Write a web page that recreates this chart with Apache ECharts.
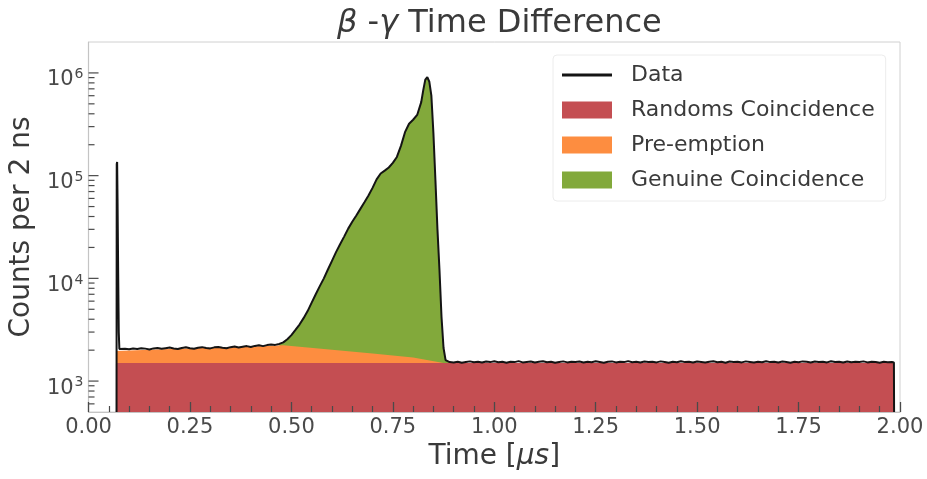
<!DOCTYPE html>
<html>
<head>
<meta charset="utf-8">
<script src="https://cdn.jsdelivr.net/npm/echarts@6/dist/echarts.min.js"></script>
<style>
  html, body { margin: 0; padding: 0; background: #fff; }
  #chart { width: 927px; height: 479px; }
</style>
</head>
<body>
<div id="chart"></div>
<script>
  // counts per 2 ns bin: [time (us), counts]
  const spikePoints = [
    [0.069, 400], [0.0695, 130000], [0.0705, 136000], [0.0715, 60000],
    [0.073, 12000], [0.0745, 3000], [0.076, 2050], [0.08, 1980]
  ];
  const flatPoints = [
    [0.09, 2060], [0.10, 2040], [0.11, 2080], [0.12, 2050], [0.13, 2090],
    [0.14, 2070], [0.15, 2030], [0.16, 2080], [0.17, 2100], [0.18, 2060],
    [0.19, 2090], [0.20, 2120], [0.21, 2080], [0.22, 2050], [0.23, 2100],
    [0.24, 2130], [0.25, 2090], [0.26, 2060], [0.27, 2110], [0.28, 2140],
    [0.29, 2100], [0.30, 2080], [0.31, 2130], [0.32, 2150], [0.33, 2110],
    [0.34, 2090], [0.35, 2140], [0.36, 2170], [0.37, 2120], [0.38, 2160],
    [0.39, 2190], [0.40, 2150], [0.41, 2200], [0.42, 2230], [0.43, 2190],
    [0.44, 2240], [0.45, 2270], [0.46, 2250]
  ];
  const peakPoints = [
    [0.47, 2300], [0.48, 2380], [0.49, 2550], [0.50, 2800], [0.51, 3150],
    [0.52, 3550], [0.53, 4100], [0.54, 4800], [0.55, 5800], [0.56, 7000],
    [0.57, 8400], [0.58, 10000], [0.59, 12200], [0.60, 14800], [0.61, 18000],
    [0.62, 21500], [0.63, 25500], [0.64, 30500], [0.65, 35500], [0.66, 41000],
    [0.67, 47500], [0.68, 55000], [0.69, 64000], [0.70, 76000], [0.71, 92000],
    [0.72, 105000], [0.73, 112000], [0.74, 120000], [0.75, 133000], [0.76, 152000],
    [0.77, 195000], [0.78, 265000], [0.79, 320000], [0.80, 350000], [0.81, 390000],
    [0.82, 520000], [0.825, 680000], [0.83, 860000], [0.835, 910000], [0.84, 820000],
    [0.845, 600000], [0.85, 260000], [0.855, 90000], [0.86, 30000], [0.865, 12000],
    [0.87, 4200], [0.875, 2100], [0.88, 1600], [0.89, 1530]
  ];
  const tailPoints = [
    [0.90, 1520], [0.91, 1545], [0.92, 1510], [0.93, 1535], [0.94, 1555],
    [0.95, 1525], [0.96, 1540], [0.97, 1515], [0.98, 1550], [0.99, 1530],
    [1.00, 1560], [1.01, 1525], [1.02, 1540], [1.03, 1510], [1.04, 1545],
    [1.05, 1530], [1.06, 1565], [1.07, 1520], [1.08, 1535], [1.09, 1550],
    [1.10, 1515], [1.11, 1540], [1.12, 1560], [1.13, 1525], [1.14, 1545],
    [1.15, 1510], [1.16, 1535], [1.17, 1555], [1.18, 1520], [1.19, 1540],
    [1.20, 1530], [1.21, 1550], [1.22, 1515], [1.23, 1545], [1.24, 1525],
    [1.25, 1560], [1.26, 1535], [1.27, 1510], [1.28, 1540], [1.29, 1555],
    [1.30, 1520], [1.31, 1545], [1.32, 1530], [1.33, 1565], [1.34, 1525],
    [1.35, 1540], [1.36, 1515], [1.37, 1550], [1.38, 1530], [1.39, 1545],
    [1.40, 1520], [1.41, 1555], [1.42, 1535], [1.43, 1510], [1.44, 1545],
    [1.45, 1525], [1.46, 1560], [1.47, 1530], [1.48, 1540], [1.49, 1515],
    [1.50, 1550], [1.51, 1535], [1.52, 1520], [1.53, 1545], [1.54, 1560],
    [1.55, 1525], [1.56, 1540], [1.57, 1510], [1.58, 1550], [1.59, 1530],
    [1.60, 1545], [1.61, 1520], [1.62, 1555], [1.63, 1535], [1.64, 1515],
    [1.65, 1545], [1.66, 1525], [1.67, 1560], [1.68, 1530], [1.69, 1540],
    [1.70, 1520], [1.71, 1550], [1.72, 1535], [1.73, 1510], [1.74, 1545],
    [1.75, 1525], [1.76, 1555], [1.77, 1540], [1.78, 1515], [1.79, 1550],
    [1.80, 1530], [1.81, 1545], [1.82, 1520], [1.83, 1560], [1.84, 1535],
    [1.85, 1545], [1.86, 1515], [1.87, 1550], [1.88, 1525], [1.89, 1540],
    [1.90, 1530], [1.91, 1555], [1.92, 1520], [1.93, 1545], [1.94, 1535],
    [1.95, 1510], [1.96, 1540], [1.97, 1525], [1.98, 1535], [1.985, 1520],
    [1.9855, 400]
  ];
  // randoms + pre-emption (upper edge of the orange band)
  const preemptionPoints = [
    [0.069, 1960], [0.10, 1990], [0.20, 2050], [0.30, 2110], [0.40, 2170],
    [0.48, 2230], [0.60, 2020], [0.70, 1860], [0.80, 1700], [0.875, 1500]
  ];
  const randomsPoints = [[0.069, 1500], [1.9855, 1500]];

  const xTicks = [0, 0.25, 0.5, 0.75, 1, 1.25, 1.5, 1.75, 2];
  const yMajorTicks = [1000, 10000, 100000, 1000000];
  const yMinorTicks = [
    600, 700, 800, 900,
    2000, 3000, 4000, 5000, 6000, 7000, 8000, 9000,
    20000, 30000, 40000, 50000, 60000, 70000, 80000, 90000,
    200000, 300000, 400000, 500000, 600000, 700000, 800000, 900000
  ];

  const dataPoints = spikePoints.concat(flatPoints, peakPoints, tailPoints);

  const FONT = 'DejaVu Sans';
  const TICK = '#4a4a4a';
  const chart = echarts.init(document.getElementById('chart'), null, { renderer: 'canvas' });

  // y ticks drawn inward from the left axis: [value, length]
  const yTickData = yMajorTicks.map((v) => [0, v, 10]).concat(yMinorTicks.map((v) => [0, v, 6]));

  const option = {
    animation: false,
    backgroundColor: '#ffffff',
    title: {
      text: '{i|β} -{i|γ} Time Difference',
      left: 332,
      top: 3,
      textStyle: {
        fontFamily: FONT, fontSize: 32, fontWeight: 'normal', color: '#3a3a3a',
        rich: { i: { fontFamily: FONT, fontSize: 32, fontStyle: 'italic', color: '#3a3a3a' } }
      }
    },
    grid: {
      left: 88, right: 27, top: 42, bottom: 67,
      show: true, borderColor: '#d0d0d0', borderWidth: 1
    },
    legend: {
      orient: 'vertical',
      left: 553, top: 55,
      padding: [9, 11, 10, 9],
      itemWidth: 50, itemHeight: 17, itemGap: 13,
      backgroundColor: '#ffffff',
      borderColor: '#ececec', borderWidth: 1, borderRadius: 4,
      textStyle: { fontFamily: FONT, fontSize: 22, color: '#3a3a3a', padding: [0, 0, 0, 14] },
      data: [
        { name: 'Data', icon: 'path://M0,0 L50,0 L50,0.01 Z M0,7 L50,7 L50,10 L0,10 Z M0,17 L50,17 L50,17.01 Z' },
        { name: 'Randoms Coincidence', icon: 'rect' },
        { name: 'Pre-emption', icon: 'rect' },
        { name: 'Genuine Coincidence', icon: 'rect' }
      ]
    },
    xAxis: {
      type: 'value',
      min: 0, max: 2, interval: 0.25,
      z: 10,
      name: 'Time [{i|μs}]',
      nameLocation: 'middle',
      nameGap: 27,
      nameTextStyle: {
        fontFamily: FONT, fontSize: 28, color: '#3a3a3a',
        rich: { i: { fontFamily: FONT, fontSize: 28, fontStyle: 'italic', color: '#3a3a3a' } }
      },
      axisLine: { lineStyle: { color: '#c4c4c4', width: 1.2 } },
      axisTick: { inside: true, length: 10, lineStyle: { color: TICK, width: 1.3 } },
      minorTick: { show: true, splitNumber: 5, length: 6, lineStyle: { color: TICK, width: 1.2 } },
      splitLine: { show: false },
      axisLabel: {
        margin: 5, fontFamily: FONT, fontSize: 21, color: '#4a4a4a',
        formatter: (v) => (xTicks.indexOf(+v.toFixed(2)) >= 0 ? v.toFixed(2) : '')
      }
    },
    yAxis: {
      type: 'log',
      logBase: 10,
      min: 500, max: 2000000,
      z: 10,
      name: 'Counts per 2 ns',
      nameLocation: 'middle',
      nameGap: 52,
      nameTextStyle: { fontFamily: FONT, fontSize: 28, color: '#3a3a3a' },
      axisLine: { show: true, lineStyle: { color: '#c4c4c4', width: 1.2 } },
      axisTick: { show: false },
      splitLine: { show: false },
      axisLabel: {
        margin: 5,
        formatter: (v) => {
          const e = Math.round(Math.log10(v));
          if (Math.abs(Math.log10(v) - e) > 1e-6) return '';
          return '{b|10}{s|' + e + '}';
        },
        rich: {
          b: { fontFamily: FONT, fontSize: 21, lineHeight: 21, padding: [14, 0, 0, 0], color: '#4a4a4a' },
          s: { fontFamily: FONT, fontSize: 14, lineHeight: 14, padding: [5, 0, 0, 1], verticalAlign: 'top', color: '#4a4a4a' }
        }
      }
    },
    series: [
      {
        name: 'Genuine Coincidence',
        type: 'line',
        data: peakPoints,
        symbol: 'none',
        color: '#82a93b',
        lineStyle: { width: 0 },
        areaStyle: { color: '#82a93b', opacity: 1, origin: 'start' },
        z: 2
      },
      {
        name: 'Pre-emption',
        type: 'line',
        data: preemptionPoints,
        symbol: 'none',
        color: '#fd8d40',
        lineStyle: { width: 0 },
        areaStyle: { color: '#fd8d40', opacity: 1, origin: 'start' },
        z: 3
      },
      {
        name: 'Randoms Coincidence',
        type: 'line',
        data: randomsPoints,
        symbol: 'none',
        color: '#c44e52',
        lineStyle: { width: 0 },
        areaStyle: { color: '#c44e52', opacity: 1, origin: 'start' },
        z: 4
      },
      {
        name: 'Data',
        type: 'line',
        data: dataPoints,
        symbol: 'none',
        color: '#141414',
        lineStyle: { color: '#141414', width: 2 },
        z: 5
      },
      {
        name: 'yTicks',
        type: 'custom',
        silent: true,
        z: 11,
        data: yTickData,
        renderItem: (params, api) => {
          const p = api.coord([0, api.value(1)]);
          return {
            type: 'line',
            shape: { x1: p[0], y1: p[1], x2: p[0] + api.value(2), y2: p[1] },
            style: { stroke: TICK, lineWidth: 1.2 }
          };
        }
      }
    ]
  };

  chart.setOption(option);
</script>
</body>
</html>
